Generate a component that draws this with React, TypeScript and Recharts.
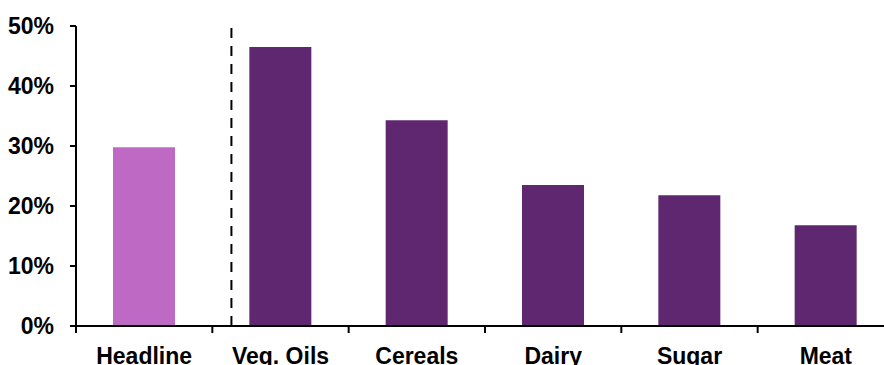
import React from 'react';
import { BarChart, Bar, XAxis, YAxis, Cell, ReferenceLine } from 'recharts';

// Year-on-year change by food price index component (%)
const CATEGORIES = ['Headline', 'Veg. Oils', 'Cereals', 'Dairy', 'Sugar', 'Meat'];
const CHANGE_PCT = [29.8, 46.5, 34.3, 23.5, 21.8, 16.8];
const Y_TICKS = [0, 10, 20, 30, 40, 50];

// The headline index sits apart from the sub-indices, split by a dashed divider
const DIVIDER_POS = 1.14;

const HEADLINE_COLOR = '#BE69C3';
const COMPONENT_COLOR = '#5F2770';
const FONT = '"Liberation Sans", Arial, sans-serif';

const CHART_W = 894;
const CHART_H = 365;
const Y_AXIS_W = 76;
const MARGIN_TOP = 26;
const X_AXIS_H = 39;
const BAND = (CHART_W - Y_AXIS_W) / CATEGORIES.length;

const data = CATEGORIES.map((name, i) => ({ name, value: CHANGE_PCT[i], slot: i + 0.5 }));

function CategoryTick(props: any) {
  const { x, y, payload, index } = props;
  const half = BAND / 2;
  return (
    <g>
      <line x1={x - half} x2={x - half} y1={y} y2={y + 7} stroke="#000" strokeWidth={2} />
      {index === CATEGORIES.length - 1 && (
        <line x1={x + half} x2={x + half} y1={y} y2={y + 7} stroke="#000" strokeWidth={2} />
      )}
      <text
        x={x}
        y={y + 22}
        dy="0.71em"
        textAnchor="middle"
        fill="#000"
        fontSize={23}
        fontWeight={700}
        fontFamily={FONT}
      >
        {payload.value}
      </text>
    </g>
  );
}

export default function App() {
  return (
    <div style={{ position: 'absolute', left: 0, top: 0, width: 884, height: 365, overflow: 'hidden', background: '#fff' }}>
      <BarChart
        width={CHART_W}
        height={CHART_H}
        data={data}
        margin={{ top: MARGIN_TOP, right: 0, bottom: 0, left: 0 }}
      >
        <XAxis
          dataKey="name"
          height={X_AXIS_H}
          interval={0}
          axisLine={{ stroke: '#000', strokeWidth: 2 }}
          tickLine={false}
          tickSize={0}
          tickMargin={0}
          tick={<CategoryTick />}
        />
        <XAxis
          xAxisId="pos"
          dataKey="slot"
          type="number"
          domain={[0, CATEGORIES.length]}
          allowDataOverflow
          hide
        />
        <YAxis
          width={Y_AXIS_W}
          domain={[0, 50]}
          ticks={Y_TICKS}
          interval={0}
          tickFormatter={(v: number) => `${v}%`}
          axisLine={{ stroke: '#000', strokeWidth: 2 }}
          tickLine={{ stroke: '#000', strokeWidth: 2 }}
          tickSize={6}
          tickMargin={16}
          tick={{ fill: '#000', fontSize: 23, fontWeight: 700, fontFamily: FONT }}
        />
        <ReferenceLine
          xAxisId="pos"
          x={DIVIDER_POS}
          stroke="#000"
          strokeWidth={2}
          strokeDasharray="10 8"
        />
        <Bar dataKey="value" barSize={62} isAnimationActive={false}>
          {data.map((d, i) => (
            <Cell key={d.name} fill={i === 0 ? HEADLINE_COLOR : COMPONENT_COLOR} />
          ))}
        </Bar>
      </BarChart>
    </div>
  );
}
